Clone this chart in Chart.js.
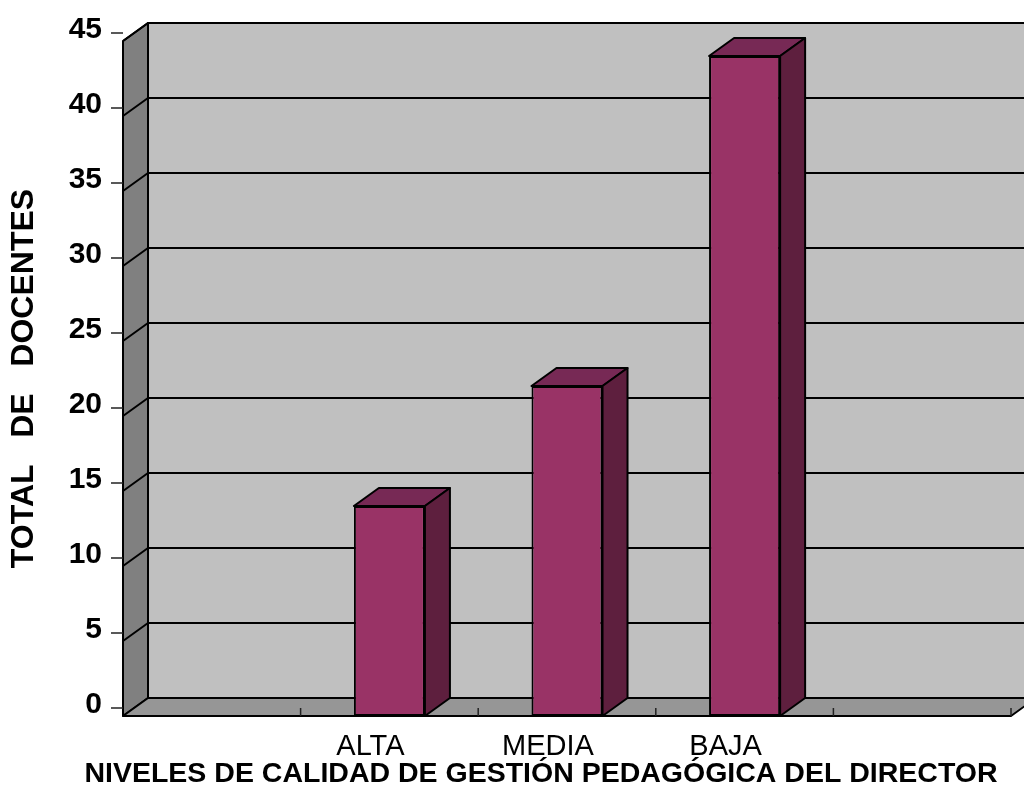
<!DOCTYPE html>
<html>
<head>
<meta charset="utf-8">
<script src="https://cdn.jsdelivr.net/npm/chart.js@4.4.1/dist/chart.umd.min.js"></script>
<style>
  html, body { margin: 0; padding: 0; background: #fff; }
  #wrap { width: 1024px; height: 787px; }
</style>
</head>
<body>
<div id="wrap"><canvas id="myChart"></canvas></div>
<script>
const categories = ["", "ALTA", "MEDIA", "BAJA", ""];
const docentes = [null, 14, 22, 44, null];
const yTicks = [0, 5, 10, 15, 20, 25, 30, 35, 40, 45];
const yTitle = "TOTAL   DE   DOCENTES";
const xTitle = "NIVELES DE CALIDAD DE GESTIÓN PEDAGÓGICA DEL DIRECTOR";

const fontFamily = "'Liberation Sans', Arial, sans-serif";
// depth of the walls and of the bars
const dx = 25;
const dy = -18;

function poly(ctx, pts, fill) {
  ctx.beginPath();
  ctx.moveTo(pts[0][0], pts[0][1]);
  for (let i = 1; i < pts.length; i++) ctx.lineTo(pts[i][0], pts[i][1]);
  ctx.closePath();
  ctx.fillStyle = fill;
  ctx.fill();
  ctx.stroke();
}

const box3d = {
  id: "box3d",
  beforeDatasetsDraw(chart) {
    const ctx = chart.ctx;
    const a = chart.chartArea;
    const y = chart.scales.y;
    const x = chart.scales.x;
    ctx.save();
    ctx.strokeStyle = "#000";
    ctx.lineWidth = 2;
    ctx.lineJoin = "round";

    // back wall, left wall, floor
    poly(ctx, [[a.left + dx, a.top + dy], [a.right + dx, a.top + dy], [a.right + dx, a.bottom + dy], [a.left + dx, a.bottom + dy]], "#c0c0c0");
    poly(ctx, [[a.left, a.top], [a.left + dx, a.top + dy], [a.left + dx, a.bottom + dy], [a.left, a.bottom]], "#808080");
    poly(ctx, [[a.left, a.bottom], [a.left + dx, a.bottom + dy], [a.right + dx, a.bottom + dy], [a.right, a.bottom]], "#969696");

    // grid lines across the left wall and the back wall
    yTicks.forEach(v => {
      if (v === 0) return;
      const py = y.getPixelForValue(v);
      ctx.beginPath();
      ctx.moveTo(a.left, py);
      ctx.lineTo(a.left + dx, py + dy);
      ctx.lineTo(a.right + dx, py + dy);
      ctx.stroke();
    });

    // small tick marks
    ctx.lineWidth = 1.5;
    ctx.strokeStyle = "#222";
    yTicks.forEach(v => {
      const py = y.getPixelForValue(v) - 8;
      ctx.beginPath();
      ctx.moveTo(a.left - 12, py);
      ctx.lineTo(a.left, py);
      ctx.stroke();
    });
    for (let i = 1; i <= categories.length; i++) {
      const px = i < categories.length
        ? (x.getPixelForValue(i - 1) + x.getPixelForValue(i)) / 2
        : a.right;
      ctx.beginPath();
      ctx.moveTo(px, a.bottom);
      ctx.lineTo(px, a.bottom - 8);
      ctx.stroke();
    }
    ctx.restore();
  },
  afterDatasetsDraw(chart) {
    const ctx = chart.ctx;
    const meta = chart.getDatasetMeta(0);
    ctx.save();
    ctx.strokeStyle = "#000";
    ctx.lineWidth = 2;
    ctx.lineJoin = "round";
    meta.data.forEach((bar, i) => {
      if (docentes[i] == null) return;
      const p = bar.getProps(["x", "y", "base", "width"], true);
      const x1 = p.x - p.width / 2;
      const x2 = p.x + p.width / 2;
      poly(ctx, [[x1, p.y], [x1 + dx, p.y + dy], [x2 + dx, p.y + dy], [x2, p.y]], "#772955");
      poly(ctx, [[x2, p.y], [x2 + dx, p.y + dy], [x2 + dx, p.base + dy], [x2, p.base]], "#5e1f3e");
    });
    ctx.restore();
  },
  afterDraw(chart) {
    const ctx = chart.ctx;
    ctx.save();
    ctx.font = "bold 28.5px " + fontFamily;
    ctx.fillStyle = "#000";
    ctx.textAlign = "center";
    ctx.textBaseline = "alphabetic";
    ctx.fillText(xTitle, 541, 782);
    ctx.restore();
  }
};

const ctx = document.getElementById("myChart").getContext("2d");
const myChart = new Chart(ctx, {
  type: "bar",
  data: {
    labels: categories,
    datasets: [
      {
        label: "Docentes",
        data: docentes,
        backgroundColor: "#993366",
        borderColor: "#000",
        borderWidth: 2,
        borderSkipped: false,
        categoryPercentage: 1,
        barPercentage: 0.4
      }
    ]
  },
  options: {
    responsive: true,
    maintainAspectRatio: false,
    animation: false,
    layout: { padding: { top: 41, right: 13, bottom: 0, left: 0 } },
    plugins: {
      legend: { display: false },
      tooltip: { enabled: false }
    },
    scales: {
      x: {
        grid: { display: false, drawTicks: false },
        border: { display: false },
        ticks: {
          color: "#000",
          font: { family: fontFamily, size: 29 },
          labelOffset: -19,
          padding: 14,
          maxRotation: 0,
          autoSkip: false
        },
        afterFit(scale) { scale.height = 71; }
      },
      y: {
        min: 0,
        max: 45,
        grid: { display: false, drawTicks: false },
        border: { display: false },
        ticks: {
          stepSize: 5,
          color: "#000",
          font: { family: fontFamily, size: 30, weight: "bold" },
          padding: 21,
          labelOffset: -11
        },
        title: {
          display: true,
          text: yTitle,
          color: "#000",
          font: { family: fontFamily, size: 32, weight: "bold" },
          padding: { top: 5, bottom: 0 }
        },
        afterFit(scale) { scale.width = 123; }
      }
    }
  },
  plugins: [box3d]
});
</script>
</body>
</html>
